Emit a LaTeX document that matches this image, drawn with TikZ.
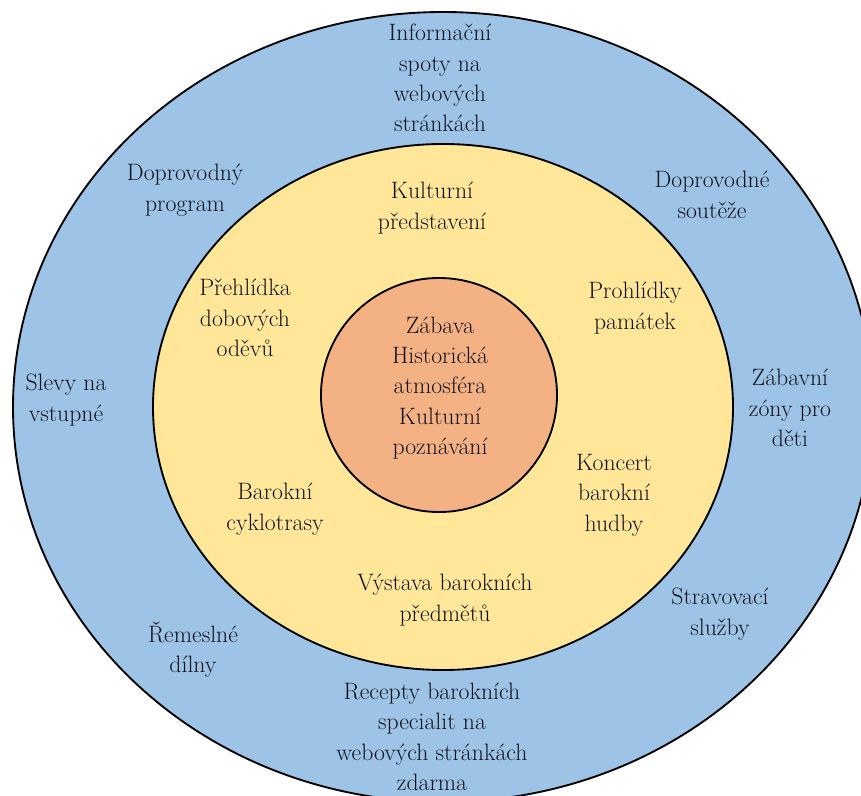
\documentclass[tikz,border=0pt]{standalone}
\usepackage{xcolor}
\definecolor{ringblue}{HTML}{9DC3E6}
\definecolor{ringyellow}{HTML}{FFE699}
\definecolor{coreorange}{HTML}{F4B183}
\definecolor{inkdark}{HTML}{14141E}

\begin{document}
\begin{tikzpicture}[x=0.75pt,y=0.75pt,
    ring/.style={draw=black,line width=1.4pt},
    lbl/.style={align=center,inner sep=0pt,text=inkdark,
      font=\fontsize{17.8pt}{22.8pt}\selectfont}]
       \useasboundingbox (0,0) rectangle (861,796);
       \clip (0,0) rectangle (861,796);
       \fill[white] (0,0) rectangle (861,796);

       % three rings
       \draw[ring,fill=ringblue] (443,389) ellipse [x radius=430, y radius=395];
       \draw[ring,fill=ringyellow] (443,389) ellipse [x radius=290, y radius=263];
       \draw[ring,fill=coreorange] (439,401) ellipse [x radius=118, y radius=117];

       % core
       \node[lbl] (core) at (440,408) {Zábava\\Historická\\atmosféra\\Kulturní\\poznávání};

       % middle ring
       \node[lbl] (kult) at (432,588) {Kulturní\\představení};
       \node[lbl] (preh) at (245,478) {Přehlídka\\dobových\\oděvů};
       \node[lbl] (proh) at (635,488) {Prohlídky\\památek};
       \node[lbl] (cykl) at (275,287) {Barokní\\cyklotrasy};
       \node[lbl] (konc) at (614,301) {Koncert\\barokní\\hudby};
       \node[lbl] (vyst) at (445,196) {Výstava barokních\\předmětů};

       % outer ring
       \node[lbl] (info) at (440,718) {Informační\\spoty na\\webových\\stránkách};
       \node[lbl] (dprg) at (185,606) {Doprovodný\\program};
       \node[lbl] (dsou) at (712,601) {Doprovodné\\soutěže};
       \node[lbl] (slev) at (66,396) {Slevy na\\vstupné};
       \node[lbl] (zaba) at (790,388) {Zábavní\\zóny pro\\děti};
       \node[lbl] (strv) at (720,182) {Stravovací\\služby};
       \node[lbl] (reme) at (193,146) {Řemeslné\\dílny};
       \node[lbl] (rcpt) at (432,59) {Recepty barokních\\specialit na\\webových stránkách\\zdarma};
    \end{tikzpicture}
\end{document}
